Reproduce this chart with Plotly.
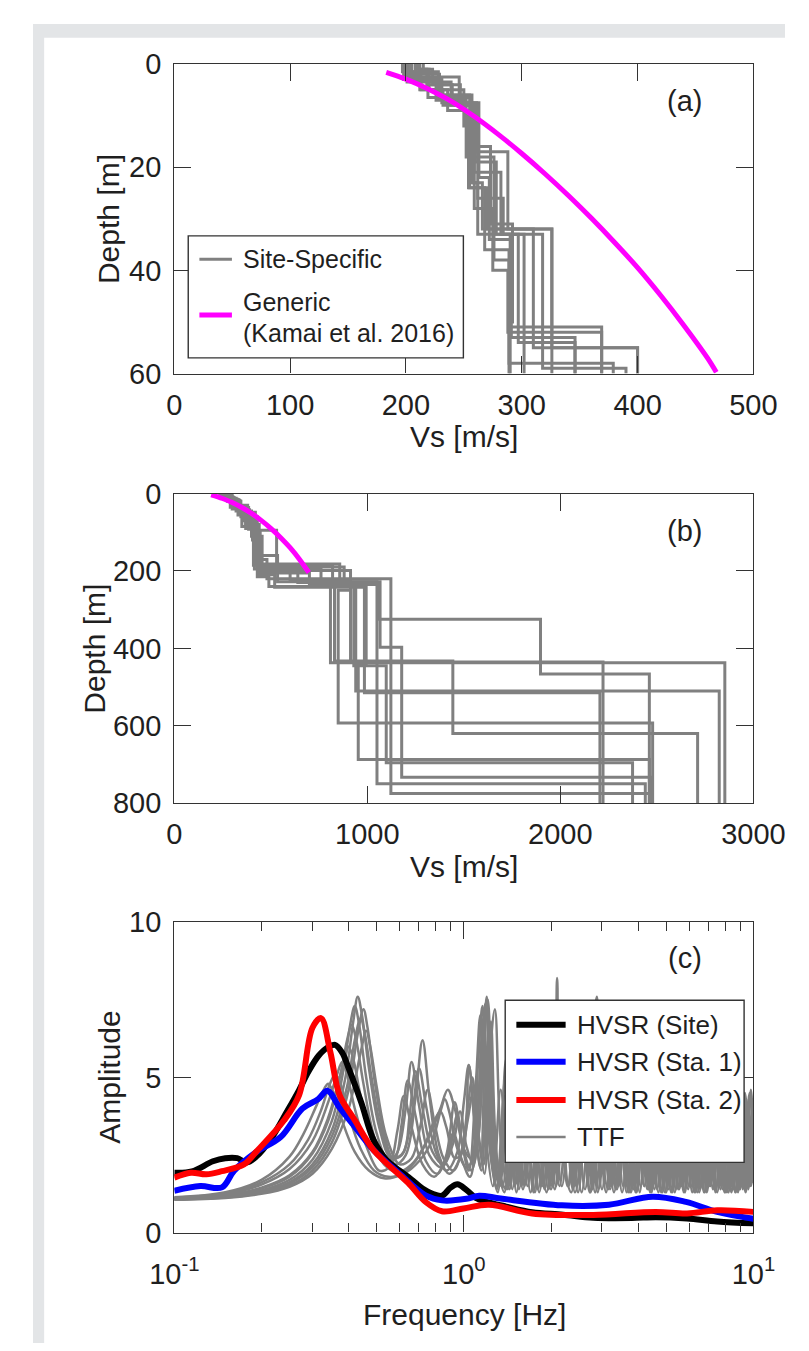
import plotly.graph_objects as go

W, H = 809, 1351
def px(x): return x / W
def py(y): return 1 - y / H

FONT = "Liberation Sans, Arial, Helvetica, sans-serif"
TXT = "#1f1f1f"
AX = "#333333"
GRAY = "#808080"

# ---------------- Panel (a): Vs profiles to 60 m ----------------
a_depths = [
    [0, 2, 5, 8, 23, 33, 51, 60],
    [0, 1.5, 6, 24, 32, 55, 60],
    [0, 1, 4, 7.5, 22, 34, 53, 60],
    [0, 3, 7, 18, 38, 58, 60],
    [0, 2.5, 8, 21, 33, 59, 60],
    [0, 1.5, 6.5, 23, 32, 60],
    [0, 3, 7.5, 17, 32, 55, 60],
    [0, 2, 5, 9, 24, 36, 60],
    [0, 1, 4, 8, 19, 33, 54, 60],
    [0, 2, 6, 16, 31, 50, 60],
    [0, 3.5, 8, 26, 33, 60],
    [0, 1, 5, 12, 28, 40, 52, 60],
]
a_vs = [
    [200, 212, 232, 258, 262, 290, 369],
    [205, 228, 255, 270, 326, 400],
    [210, 218, 240, 263, 272, 291, 346],
    [198, 226, 252, 276, 289, 379],
    [202, 246, 259, 282, 318, 390],
    [197, 219, 256, 266, 326],
    [208, 231, 261, 288, 310, 400],
    [199, 213, 236, 254, 268, 289],
    [215, 223, 247, 260, 278, 297, 346],
    [204, 229, 257, 273, 292, 290],
    [201, 239, 262, 284, 302],
    [212, 220, 250, 259, 275, 288, 369],
]
a_generic_vs = [183, 200, 220, 240, 260, 280, 300, 320, 340, 360, 380, 400, 420, 440, 460, 468]
a_generic_depth = [1.6, 2.93, 4.93, 7.33, 10.33, 13.69, 17.35, 21.27, 25.45, 29.87, 34.55, 39.47, 44.87, 50.67, 56.87, 59.75]

# ---------------- Panel (b): Vs profiles to 800 m ----------------
b_depths = [
    [0, 10, 35, 70, 182, 225, 437, 800],
    [0, 15, 55, 120, 199, 250, 593, 800],
    [0, 8, 30, 90, 160, 228, 750, 800],
    [0, 20, 60, 95, 200, 225, 435, 800],
    [0, 12, 45, 110, 190, 230, 443, 687, 800],
    [0, 5, 40, 85, 185, 235, 325, 466, 800],
    [0, 18, 50, 100, 205, 235, 445, 696, 800],
    [0, 10, 38, 80, 170, 220, 775, 800],
    [0, 14, 42, 75, 195, 228, 397, 733, 800],
    [0, 7, 33, 90, 215, 240, 433, 620, 800],
    [0, 16, 48, 115, 188, 230, 510, 800],
    [0, 9, 36, 92, 210, 242, 515, 800],
]
b_vs = [
    [245, 290, 360, 420, 857, 809, 2852],
    [265, 330, 405, 440, 913, 849, 2478],
    [240, 300, 380, 425, 535, 1050, 2440],
    [275, 345, 430, 530, 600, 913, 2221],
    [255, 320, 400, 455, 880, 994, 953, 2461],
    [235, 300, 350, 410, 820, 1057, 1897, 2461],
    [270, 340, 415, 445, 700, 930, 1098, 2374],
    [250, 310, 370, 440, 480, 1122, 2470],
    [260, 325, 390, 415, 760, 1066, 1178, 2470],
    [242, 295, 370, 430, 490, 830, 1443, 2711],
    [268, 335, 420, 450, 640, 940, 2823],
    [248, 305, 385, 435, 520, 985, 2205],
]
b_generic_vs = [191, 250, 300, 350, 400, 450, 500, 550, 600, 650, 697]
b_generic_depth = [3, 12.7, 23.2, 35.9, 51.2, 69.2, 89.7, 113.2, 139.7, 170.7, 204]

# ---------------- Panel (c): HVSR and TTF ----------------
hvsr_site = [(0.100, 1.93), (0.115, 1.97), (0.136, 2.3), (0.15, 2.4), (0.165, 2.4), (0.178, 2.26),
             (0.192, 2.45), (0.215, 3.0), (0.245, 3.9), (0.27, 4.6), (0.291, 5.2), (0.315, 5.7),
             (0.34, 5.98), (0.359, 6.05), (0.38, 5.8), (0.40, 5.3), (0.442, 4.2), (0.488, 2.98),
             (0.54, 2.35), (0.60, 2.0), (0.658, 1.72), (0.72, 1.42), (0.78, 1.25), (0.84, 1.19),
             (0.90, 1.45), (0.95, 1.56), (1.02, 1.38), (1.10, 1.12), (1.19, 1.0), (1.40, 0.84),
             (1.72, 0.66), (2.2, 0.58), (2.8, 0.48), (3.8, 0.47), (4.6, 0.5), (5.9, 0.46),
             (7.5, 0.36), (10.0, 0.3)]
hvsr_sta1 = [(0.100, 1.35), (0.123, 1.5), (0.146, 1.46), (0.161, 2.0), (0.192, 2.6), (0.233, 3.08),
             (0.277, 4.0), (0.314, 4.3), (0.338, 4.57), (0.372, 4.03), (0.421, 3.4), (0.488, 2.66),
             (0.595, 1.93), (0.74, 1.19), (0.84, 1.04), (1.02, 1.09), (1.13, 1.19), (1.34, 1.1),
             (2.18, 0.88), (3.17, 0.9), (4.49, 1.16), (5.85, 0.99), (7.5, 0.67), (10.0, 0.45)]
hvsr_sta2 = [(0.100, 1.77), (0.114, 1.93), (0.129, 1.88), (0.146, 1.98), (0.174, 2.2), (0.192, 2.61),
             (0.239, 3.61), (0.27, 4.44), (0.30, 6.6), (0.321, 6.91), (0.346, 5.81), (0.372, 4.44),
             (0.421, 3.61), (0.488, 2.66), (0.641, 1.61), (0.74, 0.98), (0.84, 0.69), (0.997, 0.78),
             (1.22, 0.9), (1.72, 0.62), (2.8, 0.57), (4.6, 0.67), (5.9, 0.62), (7.5, 0.72), (10.0, 0.67)]

ttf_1 = [(0.10,1.08),(0.15,1.15),(0.20,1.32),(0.25,1.62),(0.30,2.2),(0.35,3.3),(0.39,5.0),(0.415,6.8),(0.43,7.6),(0.445,7.0),(0.47,5.3),(0.51,3.4),(0.56,2.4),(0.61,2.5),(0.66,3.7),(0.70,5.3),(0.74,4.1),(0.80,2.6),(0.87,2.0),(0.95,2.6),(1.00,4.2),(1.04,5.4),(1.09,3.6),
         (1.14,2.1),(1.20,7.6),(1.27,2.4),(1.36,1.5),(1.45,6.0),(1.58,1.5),(1.75,5.0),(1.90,1.4),(2.10,5.5),(2.28,1.5),(2.50,5.0),(2.72,1.3),(2.95,4.5),(3.2,1.4),(3.45,5.0),(3.7,1.3),(3.95,4.0),(4.2,1.5),(4.5,4.5),(4.85,1.3),(5.2,4.0),(5.55,1.4),(5.9,4.5),(6.3,1.3),(6.7,3.8),(7.1,1.5),(7.6,4.0),(8.1,1.3),(8.6,3.5),(9.1,1.6),(9.6,4.0),(10.0,2.0)]
ttf_2 = [(0.10,1.09),(0.15,1.17),(0.20,1.36),(0.25,1.7),(0.30,2.35),(0.35,3.6),(0.385,5.3),(0.405,6.7),(0.42,7.3),(0.435,6.7),(0.46,5.0),(0.50,3.2),(0.55,2.3),(0.59,2.6),(0.63,4.0),(0.66,5.5),(0.70,4.1),(0.76,2.5),(0.84,2.1),(0.90,2.8),(0.95,3.8),(1.00,2.7),(1.06,2.4),(1.12,5.5),(1.16,7.3),(1.22,3.0),
         (1.30,1.4),(1.40,5.2),(1.52,1.6),(1.66,6.2),(1.82,1.3),(2.0,4.8),(2.18,1.5),(2.40,5.6),(2.62,1.4),(2.85,4.2),(3.1,1.3),(3.3,4.8),(3.55,1.5),(3.8,4.4),(4.05,1.3),(4.35,5.0),(4.65,1.4),(5.0,4.2),(5.35,1.3),(5.7,4.0),(6.1,1.5),(6.5,4.6),(6.9,1.3),(7.35,3.7),(7.85,1.4),(8.35,4.2),(8.85,1.3),(9.35,4.5),(9.8,1.5),(10.0,2.5)]
ttf_3 = [(0.10,1.07),(0.15,1.13),(0.20,1.28),(0.25,1.52),(0.30,2.0),(0.35,2.9),(0.40,4.6),(0.43,6.4),(0.45,7.2),(0.465,6.6),(0.49,5.0),(0.53,3.2),(0.58,2.2),(0.63,2.5),(0.68,4.3),(0.72,6.2),(0.76,4.4),(0.82,2.5),(0.89,1.9),(0.97,2.4),(1.03,3.6),(1.08,4.6),(1.13,3.0),(1.18,1.9),(1.24,6.8),(1.31,2.2),
         (1.40,1.4),(1.50,5.4),(1.62,1.5),(1.80,6.0),(1.96,1.4),(2.2,4.6),(2.38,1.4),(2.60,5.2),(2.80,1.6),(3.05,4.6),(3.3,1.3),(3.6,5.0),(3.85,1.4),(4.1,3.9),(4.4,1.3),(4.7,4.6),(5.05,1.5),(5.4,4.0),(5.75,1.3),(6.15,4.4),(6.55,1.4),(7.0,3.9),(7.4,1.3),(7.9,4.3),(8.4,1.5),(8.9,3.6),(9.4,1.3),(9.8,3.2),(10.0,1.8)]
ttf_4 = [(0.10,1.08),(0.15,1.15),(0.20,1.3),(0.25,1.58),(0.30,2.1),(0.35,3.1),(0.395,4.7),(0.42,6.2),(0.44,6.9),(0.455,6.4),(0.48,5.0),(0.52,3.3),(0.57,2.4),(0.62,2.6),(0.65,3.8),(0.68,5.2),(0.72,4.0),(0.78,2.6),(0.85,2.2),(0.92,2.9),(0.97,3.9),(1.02,2.8),(1.08,2.2),(1.15,6.2),(1.19,7.4),(1.25,2.8),
         (1.33,1.5),(1.43,5.0),(1.55,1.4),(1.70,5.8),(1.86,1.5),(2.05,4.4),(2.10,8.2),(2.16,3.0),(2.35,1.3),(2.55,5.4),(2.78,1.4),(2.98,4.8),(3.25,1.5),(3.5,4.4),(3.75,1.3),(4.0,4.9),(4.3,1.4),(4.6,4.1),(4.95,1.3),(5.3,4.6),(5.65,1.5),(6.0,4.0),(6.4,1.3),(6.85,4.4),(7.25,1.4),(7.7,3.6),(8.2,1.3),(8.7,4.1),(9.2,1.4),(9.7,4.5),(10.0,3.0)]
ttf_5 = [(0.10,1.1),(0.15,1.19),(0.20,1.42),(0.25,1.8),(0.30,2.55),(0.34,3.6),(0.375,5.1),(0.395,6.2),(0.41,6.7),(0.425,6.2),(0.45,4.8),(0.49,3.1),(0.54,2.2),(0.58,2.4),(0.61,3.5),(0.64,4.9),(0.68,3.8),(0.74,2.3),(0.81,1.9),(0.87,2.5),(0.93,4.2),(0.98,3.0),(1.04,2.0),(1.10,4.8),(1.14,7.0),(1.19,3.2),
         (1.26,1.5),(1.34,4.6),(1.44,1.4),(1.56,5.5),(1.70,1.3),(1.86,4.9),(2.02,1.5),(2.22,5.2),(2.42,1.3),(2.65,4.3),(2.88,7.6),(2.94,3.5),(3.15,1.4),(3.4,4.7),(3.65,1.3),(3.9,4.2),(4.2,1.5),(4.5,4.8),(4.8,1.3),(5.15,3.9),(5.5,1.4),(5.85,4.5),(6.25,1.3),(6.65,3.9),(7.05,1.5),(7.5,4.3),(8.0,1.3),(8.5,3.7),(9.0,1.4),(9.5,4.1),(10.0,1.6)]
ttf_6 = [(0.10,1.06),(0.15,1.12),(0.20,1.25),(0.25,1.48),(0.30,1.9),(0.35,2.7),(0.40,4.0),(0.44,5.8),(0.46,6.5),(0.475,6.0),(0.50,4.7),(0.54,3.1),(0.60,2.2),(0.66,2.4),(0.71,3.5),(0.75,4.6),(0.79,3.6),(0.85,2.4),(0.92,2.0),(0.98,2.6),(1.03,4.0),(1.07,5.0),(1.11,3.4),(1.17,2.2),(1.22,5.2),(1.28,7.2),(1.34,3.0),
         (1.42,1.4),(1.53,5.0),(1.66,1.5),(1.83,5.7),(2.0,1.4),(2.2,4.5),(2.4,1.5),(2.62,5.3),(2.84,1.3),(3.1,4.5),(3.35,1.4),(3.62,4.9),(3.9,1.5),(4.15,4.0),(4.45,1.3),(4.75,4.7),(5.1,1.4),(5.45,3.9),(5.8,1.3),(6.2,4.5),(6.6,1.5),(7.05,3.8),(7.5,1.3),(8.0,4.2),(8.5,1.4),(9.0,3.5),(9.5,1.5),(10.0,3.8)]
ttf_7 = [(0.10,1.12),(0.15,1.24),(0.20,1.55),(0.25,2.05),(0.30,2.95),(0.34,4.2),(0.365,5.1),(0.38,5.5),(0.395,5.1),(0.42,4.0),(0.46,2.8),(0.51,2.0),(0.55,2.1),(0.59,3.3),(0.62,4.4),(0.66,3.4),(0.72,2.2),(0.79,1.8),(0.86,2.3),(0.92,3.2),(0.98,2.4),(1.05,1.8),(1.12,4.2),(1.17,6.5),(1.23,2.8),
         (1.31,1.3),(1.40,5.6),(1.50,1.5),(1.62,4.6),(1.76,1.3),(1.92,5.4),(2.08,1.5),(2.28,4.7),(2.48,1.3),(2.7,5.1),(2.92,1.4),(3.15,4.3),(3.42,1.5),(3.7,4.8),(3.95,1.3),(4.25,4.1),(4.55,1.4),(4.9,4.6),(5.25,1.3),(5.6,4.0),(6.0,1.5),(6.4,4.4),(6.8,1.3),(7.25,3.8),(7.7,1.4),(8.2,4.3),(8.7,1.3),(9.2,3.9),(9.65,1.5),(10.0,4.2)]
ttf_8 = [(0.10,1.13),(0.15,1.27),(0.20,1.62),(0.25,2.2),(0.29,3.0),(0.32,3.9),(0.345,4.8),(0.36,5.1),(0.375,4.8),(0.40,3.8),(0.44,2.7),(0.49,2.0),(0.55,1.8),(0.62,1.9),(0.70,2.3),(0.78,3.0),(0.83,3.9),(0.86,4.3),(0.89,3.9),(0.95,2.7),(1.02,2.1),(1.10,2.6),(1.16,5.6),(1.21,7.5),(1.26,3.2),
         (1.33,1.6),(1.42,4.6),(1.52,1.3),(1.65,5.3),(1.80,1.4),(1.98,4.4),(2.14,1.5),(2.34,5.6),(2.55,1.3),(2.78,4.5),(3.0,1.4),(3.25,5.0),(3.52,1.3),(3.8,4.1),(4.08,1.5),(4.38,4.7),(4.7,1.3),(5.05,4.0),(5.4,1.4),(5.75,4.6),(6.15,1.3),(6.55,3.8),(7.0,1.5),(7.45,4.4),(7.95,1.3),(8.45,3.6),(8.95,1.4),(9.45,4.3),(9.85,1.6),(10.0,2.2)]
ttf_9 = [(0.10,1.14),(0.15,1.3),(0.20,1.7),(0.25,2.45),(0.28,3.2),(0.31,4.1),(0.33,4.65),(0.34,4.8),(0.355,4.5),(0.38,3.6),(0.42,2.6),(0.47,2.0),(0.53,1.75),(0.60,1.85),(0.68,2.3),(0.76,3.1),(0.83,4.0),(0.88,4.6),(0.93,4.0),(0.99,2.8),(1.06,2.0),(1.12,3.0),(1.18,6.0),(1.23,3.4),
         (1.30,1.5),(1.38,4.4),(1.47,1.4),(1.60,5.9),(1.74,1.3),(1.90,4.6),(2.06,1.4),(2.25,5.0),(2.45,1.5),(2.68,4.4),(2.9,1.3),(3.12,5.1),(3.38,1.4),(3.65,4.2),(3.92,1.3),(4.2,4.6),(4.5,1.5),(4.85,4.0),(5.2,1.3),(5.55,4.5),(5.95,1.4),(6.35,3.9),(6.75,1.3),(7.2,4.4),(7.65,1.5),(8.15,3.8),(8.65,1.3),(9.15,4.4),(9.6,1.4),(10.0,3.4)]
ttf_10 = [(0.10,1.1),(0.15,1.2),(0.20,1.45),(0.25,1.85),(0.30,2.6),(0.34,3.7),(0.37,4.9),(0.39,5.7),(0.40,6.0),(0.415,5.6),(0.44,4.4),(0.48,3.0),(0.53,2.2),(0.59,1.95),(0.66,2.2),(0.73,2.8),(0.79,3.6),(0.83,3.9),(0.87,3.4),(0.93,2.4),(0.99,2.6),(1.04,5.4),(1.09,3.5),(1.15,2.0),(1.22,6.6),(1.29,2.6),
          (1.38,1.3),(1.48,5.2),(1.60,1.4),(1.76,4.8),(1.93,1.3),(2.12,5.8),(2.3,1.5),(2.52,4.6),(2.74,1.3),(2.98,5.2),(3.22,1.5),(3.5,4.3),(3.78,1.3),(4.05,4.9),(4.35,1.4),(4.65,4.1),(5.0,1.3),(5.35,4.7),(5.7,1.5),(6.1,3.9),(6.5,1.3),(6.95,4.5),(7.4,1.4),(7.9,3.7),(8.4,1.3),(8.9,4.2),(9.4,1.5),(9.8,4.6),(10.0,3.0)]
ttf_curves = [ttf_1, ttf_2, ttf_3, ttf_4, ttf_5, ttf_6, ttf_7, ttf_8, ttf_9, ttf_10]

x_ticks_a = [0, 100, 200, 300, 400, 500]
y_ticks_a = [0, 20, 40, 60]
x_ticks_b = [0, 1000, 2000, 3000]
y_ticks_b = [0, 200, 400, 600, 800]
x_ticks_c = [0.1, 1, 10]
x_ticktext_c = ["10<sup>-1</sup>", "10<sup>0</sup>", "10<sup>1</sup>"]
x_minor_c = [0.2, 0.3, 0.4, 0.5, 0.6, 0.7, 0.8, 0.9, 2, 3, 4, 5, 6, 7, 8, 9]
y_ticks_c = [0, 5, 10]

legend_a = ["Site-Specific", "Generic", "(Kamai et al. 2016)"]
legend_c = ["HVSR (Site)", "HVSR (Sta. 1)", "HVSR (Sta. 2)", "TTF"]


def steps(depths, vs):
    xs, ys = [], []
    for i, v in enumerate(vs):
        xs += [v, v]
        ys += [depths[i], depths[i + 1]]
    return xs, ys


fig = go.Figure()

for d, v in zip(a_depths, a_vs):
    xs, ys = steps(d, v)
    fig.add_trace(go.Scatter(x=xs, y=ys, mode="lines", line=dict(color=GRAY, width=3),
                             xaxis="x", yaxis="y", showlegend=False, hoverinfo="skip"))
fig.add_trace(go.Scatter(x=a_generic_vs, y=a_generic_depth, mode="lines",
                         line=dict(color="#ff00ff", width=5, shape="spline"),
                         xaxis="x", yaxis="y", showlegend=False))

for d, v in zip(b_depths, b_vs):
    xs, ys = steps(d, v)
    fig.add_trace(go.Scatter(x=xs, y=ys, mode="lines", line=dict(color=GRAY, width=3),
                             xaxis="x2", yaxis="y2", showlegend=False, hoverinfo="skip"))
fig.add_trace(go.Scatter(x=b_generic_vs, y=b_generic_depth, mode="lines",
                         line=dict(color="#ff00ff", width=5, shape="spline"),
                         xaxis="x2", yaxis="y2", showlegend=False))

for c in ttf_curves:
    fig.add_trace(go.Scatter(x=[p[0] for p in c], y=[p[1] for p in c], mode="lines",
                             line=dict(color=GRAY, width=2.5, shape="spline", smoothing=1.0),
                             xaxis="x3", yaxis="y3", showlegend=False, hoverinfo="skip"))
for series, col in [(hvsr_site, "#000000"), (hvsr_sta1, "#0000ff"), (hvsr_sta2, "#ff0000")]:
    fig.add_trace(go.Scatter(x=[p[0] for p in series], y=[p[1] for p in series], mode="lines",
                             line=dict(color=col, width=6, shape="spline", smoothing=1.0),
                             xaxis="x3", yaxis="y3", showlegend=False))

tickfont = dict(family=FONT, size=29, color=TXT)
common = dict(showline=True, linecolor=AX, linewidth=1.4, mirror="ticks", ticks="inside",
              ticklen=17, tickwidth=1.3, tickcolor=AX, showgrid=False, zeroline=False,
              tickfont=tickfont, fixedrange=True)

xd = [px(152), px(775)]
fig.update_layout(
    width=W, height=H,
    margin=dict(l=0, r=0, t=0, b=0),
    paper_bgcolor="white", plot_bgcolor="white",
    showlegend=False,
    xaxis=dict(domain=xd, range=[0, 500], tickvals=x_ticks_a, anchor="y", ticklabelstandoff=5, **common),
    yaxis=dict(domain=[py(358), py(41)], range=[60, 0], tickvals=y_ticks_a, anchor="x", ticklabelstandoff=6, **common),
    xaxis2=dict(domain=xd, range=[0, 3000], tickvals=x_ticks_b, anchor="y2", ticklabelstandoff=5, **common),
    yaxis2=dict(domain=[py(798), py(481)], range=[800, 0], tickvals=y_ticks_b, anchor="x2", ticklabelstandoff=6, **common),
    xaxis3=dict(domain=xd, type="log", range=[-1, 1], tickvals=x_ticks_c, ticktext=x_ticktext_c,
                anchor="y3", ticklabelstandoff=15,
                minor=dict(tickvals=x_minor_c, ticks="inside", ticklen=9, tickwidth=1.2, tickcolor=AX),
                **common),
    yaxis3=dict(domain=[py(1238), py(920)], range=[0, 10], tickvals=y_ticks_c, anchor="x3", ticklabelstandoff=6, **common),
)

shapes = [
    dict(type="rect", xref="paper", yref="paper", x0=0, x1=px(12), y0=0, y1=1,
         fillcolor="#e3e5e7", line=dict(width=0), layer="below"),
    dict(type="rect", xref="paper", yref="paper", x0=0, x1=1, y0=py(14), y1=1,
         fillcolor="#e3e5e7", line=dict(width=0), layer="below"),
    # legend (a)
    dict(type="rect", xref="paper", yref="paper", x0=px(167), x1=px(463), y0=py(342), y1=py(217),
         fillcolor="white", line=dict(color=AX, width=1.4), layer="above"),
    dict(type="line", xref="paper", yref="paper", x0=px(179), x1=px(214), y0=py(241), y1=py(241),
         line=dict(color=GRAY, width=3), layer="above"),
    dict(type="line", xref="paper", yref="paper", x0=px(179), x1=px(214), y0=py(298), y1=py(298),
         line=dict(color="#ff00ff", width=5), layer="above"),
    # legend (c)
    dict(type="rect", xref="paper", yref="paper", x0=px(508), x1=px(765), y0=py(1166), y1=py(1000),
         fillcolor="white", line=dict(color=AX, width=1.4), layer="above"),
]
leg_c_rows = [1025, 1063, 1102, 1140]
leg_c_cols = ["#000000", "#0000ff", "#ff0000", GRAY]
leg_c_w = [6, 6, 6, 2.5]
for yy, cc, ww in zip(leg_c_rows, leg_c_cols, leg_c_w):
    shapes.append(dict(type="line", xref="paper", yref="paper", x0=px(520), x1=px(573), y0=py(yy), y1=py(yy),
                       line=dict(color=cc, width=ww), layer="above"))
fig.update_layout(shapes=shapes)

ann = []
def text(x, y, s, size=29, xanchor="center", angle=0):
    ann.append(dict(x=px(x), y=py(y), xref="paper", yref="paper", text=s, showarrow=False,
                    xanchor=xanchor, yanchor="middle", textangle=angle,
                    font=dict(family=FONT, size=size, color=TXT)))

text(81, 199.5, "Depth [m]", 30, angle=-90)
text(66, 639.5, "Depth [m]", 30, angle=-90)
text(82, 1079, "Amplitude", 30, angle=-90)
text(464, 423, "Vs [m/s]", 30)
text(464, 863, "Vs [m/s]", 30)
text(464, 1322, "Frequency [Hz]", 30)
text(701, 79, "(a)", 29)
text(701, 519, "(b)", 29)
text(701, 957, "(c)", 29)

text(224, 241, legend_a[0], 25, xanchor="left")
text(224, 285, legend_a[1], 25, xanchor="left")
text(224, 317, legend_a[2], 25, xanchor="left")
for yy, s in zip(leg_c_rows, legend_c):
    text(583, yy, s, 26, xanchor="left")

fig.update_layout(annotations=ann)
fig.write_html("out.html")
